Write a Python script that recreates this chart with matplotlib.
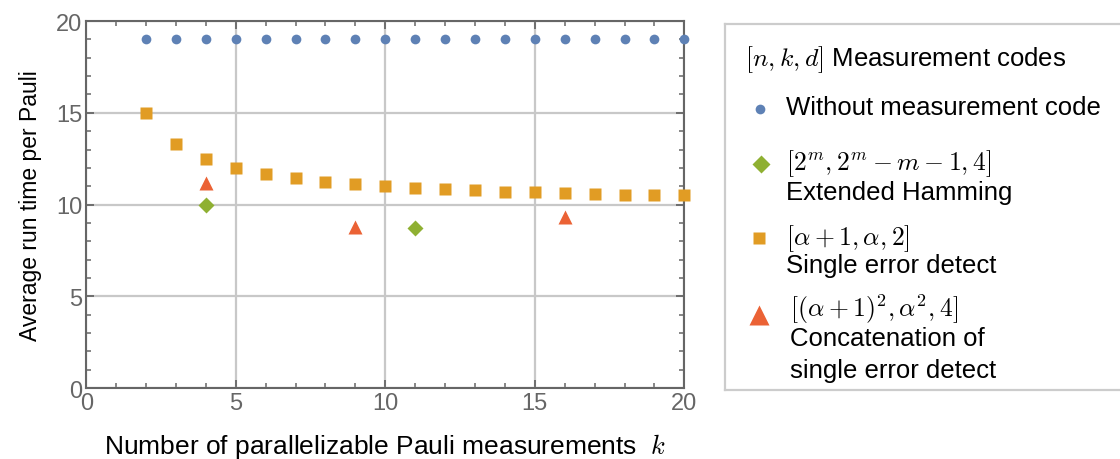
import numpy as np
import matplotlib.pyplot as plt
from matplotlib.ticker import MultipleLocator

plt.rcParams['font.family'] = ['Liberation Sans', 'DejaVu Sans']
plt.rcParams['mathtext.fontset'] = 'cm'

# data
k_base = list(range(2, 21))
t_base = [19.0] * 19

k_hamming = [4, 11]
t_hamming = [10.0, 8.7]

k_sed = list(range(2, 21))
t_sed = [15.0, 13.3, 12.5, 12.0, 11.67, 11.43, 11.25, 11.1, 11.0, 10.9,
         10.83, 10.77, 10.7, 10.67, 10.62, 10.59, 10.55, 10.52, 10.5]

k_concat = [4, 9, 16]
t_concat = [11.2, 8.8, 9.3]

BLUE = "#5E81B5"
GREEN = "#8FB032"
ORANGE = "#E19C24"
RED = "#EB6235"
FRAME = "#666666"

fig = plt.figure(figsize=(11.2, 4.6), dpi=100)
ax = fig.add_axes([0.077, 0.154, 0.534, 0.798])

ax.plot(k_base, t_base, "o", color=BLUE, ms=7, mec="none", zorder=3, clip_on=False)
ax.plot(k_hamming, t_hamming, "D", color=GREEN, ms=8, mec="none", zorder=3)
ax.plot(k_sed, t_sed, "s", color=ORANGE, ms=8.5, mec="none", zorder=3, clip_on=False)
ax.plot(k_concat, t_concat, "^", color=RED, ms=9.5, mec="none", zorder=3)

ax.set_xlim(0, 20)
ax.set_ylim(0, 20)
ax.xaxis.set_major_locator(MultipleLocator(5))
ax.yaxis.set_major_locator(MultipleLocator(5))
ax.xaxis.set_minor_locator(MultipleLocator(1))
ax.yaxis.set_minor_locator(MultipleLocator(1))
ax.grid(True, which="major", color="#c8c8c8", lw=1.6)
ax.set_axisbelow(True)

for s in ax.spines.values():
    s.set_color(FRAME)
    s.set_linewidth(1.5)
ax.tick_params(which="both", direction="in", top=True, right=True, color=FRAME,
               labelcolor="#666666", labelsize=17, pad=3)
ax.tick_params(which="major", length=6, width=1.3)
ax.tick_params(which="minor", length=3.5, width=1.1)

ax.set_xlabel("Number of parallelizable Pauli measurements  $k$", fontsize=19, labelpad=12)
ax.set_ylabel("Average run time per Pauli", fontsize=16.5, labelpad=10)

# legend panel
lax = fig.add_axes([0.647, 0.15, 0.36, 0.795])
lax.set_xlim(0, 1)
lax.set_ylim(0, 1)
lax.set_xticks([])
lax.set_yticks([])
for s in lax.spines.values():
    s.set_color("#cccccc")
    s.set_linewidth(1.6)

def fy(py):
    # pixel row in the figure -> legend axes fraction
    return (391 - py) / 366.0

def fx(px):
    return (px - 725) / 403.0

fs = 18.5
lax.text(fx(745), fy(59), "$[n, k, d]$ Measurement codes", fontsize=fs, va="center")

lax.plot([fx(760)], [fy(110)], "o", color=BLUE, ms=7, mec="none")
lax.text(fx(786), fy(108), "Without measurement code", fontsize=fs, va="center")

lax.plot([fx(761)], [fy(165)], "D", color=GREEN, ms=9, mec="none")
lax.text(fx(786), fy(163), "$[2^m, 2^m - m - 1, 4]$", fontsize=fs, va="center")
lax.text(fx(786), fy(193), "Extended Hamming", fontsize=fs, va="center")

lax.plot([fx(759)], [fy(239)], "s", color=ORANGE, ms=8, mec="none")
lax.text(fx(786), fy(238), r"$[\alpha + 1, \alpha, 2]$", fontsize=fs, va="center")
lax.text(fx(786), fy(266), "Single error detect", fontsize=fs, va="center")

lax.plot([fx(759)], [fy(316)], "^", color=RED, ms=14, mec="none")
lax.text(fx(790), fy(309), r"$[(\alpha + 1)^2, \alpha^2, 4]$", fontsize=fs, va="center")
lax.text(fx(790), fy(339), "Concatenation of", fontsize=fs, va="center")
lax.text(fx(790), fy(371), "single error detect", fontsize=fs, va="center")

fig.savefig("out.png", dpi=100)
